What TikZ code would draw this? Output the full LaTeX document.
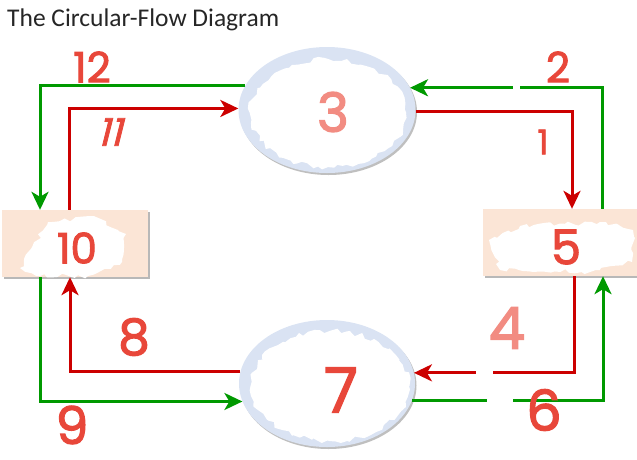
\documentclass[tikz,border=0pt]{standalone}
\usepackage{fontspec}
\setmainfont{Carlito}
\newfontfamily\hand[FakeBold=2.2]{Poppins}
\usetikzlibrary{arrows.meta,shapes.geometric,shadows,decorations.pathmorphing}
\definecolor{gr}{RGB}{0,153,0}
\definecolor{rd}{RGB}{204,0,0}
\definecolor{ink}{RGB}{232,71,58}
\definecolor{inkl}{RGB}{242,140,130}
\definecolor{ellfill}{RGB}{218,227,243}
\definecolor{boxfill}{RGB}{251,229,214}
\begin{document}
\begin{tikzpicture}[x=1pt,y=-1pt,
  tip/.style={-{Stealth[length=18pt,width=17pt,inset=5pt]}},
  gline/.style={draw=gr,line width=3pt,tip},
  rline/.style={draw=rd,line width=3pt,tip},
  ell/.style={ellipse,fill=ellfill,inner sep=0pt,
    drop shadow={shadow xshift=1.5pt,shadow yshift=-2pt,opacity=0.25,fill=black}},
  box/.style={rectangle,fill=boxfill,inner sep=0pt,
    drop shadow={shadow xshift=2pt,shadow yshift=-2pt,opacity=0.35,fill=black!80}},
  scrib/.style={fill=white,decorate,decoration={random steps,segment length=5pt,amplitude=2.5pt}},
  num/.style={font=\hand\fontsize{#1}{#1}\selectfont,text=ink,inner sep=0pt},
  numl/.style={font=\hand\fontsize{#1}{#1}\selectfont,text=inkl,inner sep=0pt}]
\useasboundingbox (0,0) rectangle (637,459);
\pgfmathsetseed{7}

% title
\node[anchor=base west,inner sep=0pt,font=\fontsize{25.5}{30}\selectfont,text=black!85] (title) at (7,26) {The Circular-Flow Diagram};

% shapes
\node[ell,minimum width=177pt,minimum height=126pt] (top) at (327,110) {};
\node[ell,minimum width=176pt,minimum height=127pt] (bot) at (327,383.5) {};
\node[box,minimum width=146pt,minimum height=67pt] (lrect) at (75,243.5) {};
\node[box,minimum width=157pt,minimum height=67pt] (rrect) at (561.5,242.5) {};

% erased patches
\fill[scrib] (328,113) ellipse [x radius=78, y radius=54];
\fill[scrib] (330,386) ellipse [x radius=79, y radius=55];
\fill[scrib] (20,268) -- (48,222) -- (90,216) -- (126,234) -- (122,262) -- (88,276) -- (40,276) -- cycle;
\fill[scrib] (489,240) -- (520,226) -- (600,222) -- (633,230) -- (632,262) -- (590,272) -- (500,270) -- cycle;

% connectors: green (outer loop)
\draw[gline] (top.163) -| ([xshift=-35pt]lrect.north);
\draw[gline] ([xshift=40.5pt]rrect.north) |- (top.15);
\draw[gline] (bot.-11) -| ([xshift=41.5pt]rrect.south);
\draw[gline] ([xshift=-35pt]lrect.south) |- (bot.-168.3);
% connectors: red (inner loop)
\draw[rline] ([xshift=-6pt]lrect.north) |- (top.179);
\draw[rline] (top.-1) -| ([xshift=10.5pt]rrect.north);
\draw[rline] ([xshift=13pt]rrect.south) |- (bot.7);
\draw[rline] (bot.172.4) -| ([xshift=-5pt]lrect.south);

% small erased gaps
\fill[white] (476,371) rectangle (493,376);
\fill[white] (487,398) rectangle (513,403);
\fill[white] (513,85) rectangle (520,90);

% handwritten numbers
\node[num=42] (n12) at (92,67) {12};
\node[num=38,xslant=0.25] (n11) at (113,132) {11};
\node[num=42] (n2) at (558,67) {2};
\node[num=34] (n1) at (543,142) {1};
\node[numl=54] (n3) at (333,112) {3};
\node[num=42] (n10) at (77,248) {10};
\node[num=48] (n5) at (566,247) {5};
\node[num=50] (n8) at (134,337) {8};
\node[numl=58] (n4) at (507,328) {4};
\node[num=56] (n6) at (544,410) {6};
\node[num=62] (n7) at (341,390) {7};
\node[num=52] (n9) at (72,425) {9};
\end{tikzpicture}
\end{document}
